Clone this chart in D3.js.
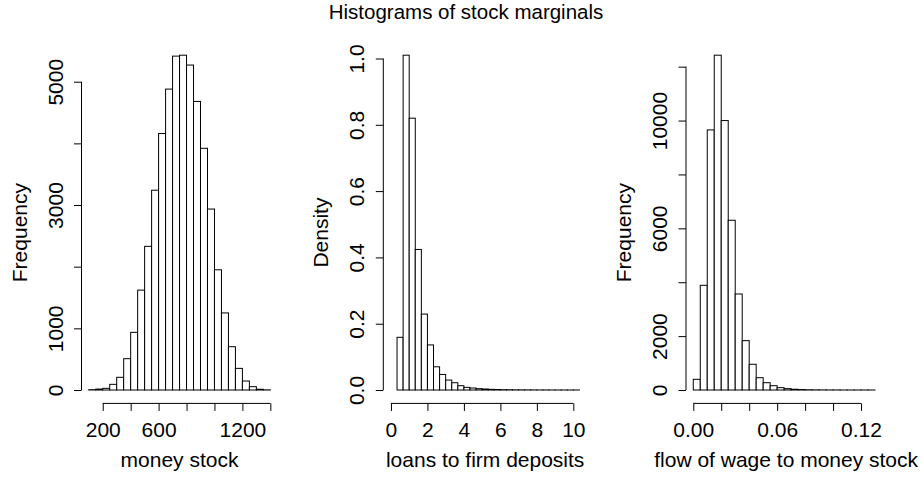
<!DOCTYPE html>
<html>
<head>
<meta charset="utf-8">
<script src="https://cdn.jsdelivr.net/npm/d3@7"></script>
<style>
  body { margin: 0; background: #fff; }
  svg text { font-family: "Liberation Sans", Arial, Helvetica, sans-serif; fill: #000; }
  .axis path, .axis line { stroke: #000; stroke-width: 1; }
</style>
</head>
<body>
<svg id="chart" width="922" height="478"></svg>
<script>
// money stock: bin edges and counts
var moneyBreaks = [100,150,200,250,300,350,400,450,500,550,600,650,700,750,800,850,900,950,1000,1050,1100,1150,1200,1250,1300,1350,1400];
var moneyCounts = [5,15,27,92,206,508,935,1620,2330,3240,4160,4880,5415,5430,5270,4680,3920,2935,1950,1250,702,351,146,54,12,3];
var moneyXTicks = [200,400,600,800,1000,1200,1400];
var moneyXLabels = ["200","","600","","","1200",""];
var moneyYTicks = [0,1000,2000,3000,4000,5000];
var moneyYLabels = ["0","1000","","3000","","5000"];

// loans to firm deposits: bin edges and densities
var loanBreaks = [0.333,0.667,1,1.333,1.667,2,2.333,2.667,3,3.333,3.667,4,4.333,4.667,5,5.333,5.667,6,6.333,6.667,7,7.333,7.667,8,8.333,8.667,9,9.333,9.667,10,10.333];
var loanDensity = [0.159,1.010,0.820,0.424,0.229,0.136,0.070,0.047,0.030,0.022,0.013,0.008,0.006,0.004,0.003,0.002,0.0015,0.001,0.0008,0.0006,0.0005,0.0004,0.0003,0.0002,0.0002,0.0001,0.0001,0.0001,0.0001,0.0001];
var loanXTicks = [0,2,4,6,8,10];
var loanXLabels = ["0","2","4","6","8","10"];
var loanYTicks = [0,0.2,0.4,0.6,0.8,1.0];
var loanYLabels = ["0.0","0.2","0.4","0.6","0.8","1.0"];

// flow of wage to money stock: bin edges and counts
var wageBreaks = [0,0.005,0.01,0.015,0.02,0.025,0.03,0.035,0.04,0.045,0.05,0.055,0.06,0.065,0.07,0.075,0.08,0.085,0.09,0.095,0.1,0.105,0.11,0.115,0.12,0.125,0.13];
var wageCounts = [397,3886,9653,12426,10000,6300,3564,1832,955,457,271,160,87,50,28,17,10,6,4,3,2,1,1,1,1,1];
var wageXTicks = [0,0.02,0.04,0.06,0.08,0.1,0.12];
var wageXLabels = ["0.00","","","0.06","","","0.12"];
var wageYTicks = [0,2000,4000,6000,8000,10000,12000];
var wageYLabels = ["0","2000","","6000","","10000",""];

var svg = d3.select("#chart");
var fontSize = 21,
    tick = 7.5,
    plotTop = 41.8,
    plotBottom = 403.4;

svg.append("text")
    .attr("x", 466)
    .attr("y", 19)
    .attr("text-anchor", "middle")
    .style("font-size", "20.5px")
    .text("Histograms of stock marginals");

var panels = [
  {breaks: moneyBreaks, values: moneyCounts, xlim: [48, 1452], left: 81.5, right: 277.6,
   xTicks: moneyXTicks, xLabels: moneyXLabels, yTicks: moneyYTicks, yLabels: moneyYLabels,
   xLab: "money stock", yLab: "Frequency"},
  {breaks: loanBreaks, values: loanDensity, xlim: [-0.42, 10.75], left: 383.3, right: 587,
   xTicks: loanXTicks, xLabels: loanXLabels, yTicks: loanYTicks, yLabels: loanYLabels,
   xLab: "loans to firm deposits", yLab: "Density"},
  {breaks: wageBreaks, values: wageCounts, xlim: [-0.0052, 0.1352], left: 686, right: 882.3,
   xTicks: wageXTicks, xLabels: wageXLabels, yTicks: wageYTicks, yLabels: wageYLabels,
   xLab: "flow of wage to money stock", yLab: "Frequency"}
];

panels.forEach(function(p) {
  var g = svg.append("g");
  var ymax = d3.max(p.values);

  var x = d3.scaleLinear().domain(p.xlim).range([p.left, p.right]);
  var y = d3.scaleLinear().domain([-0.04 * ymax, 1.04 * ymax]).range([plotBottom, plotTop]);

  // bars
  g.selectAll("rect")
    .data(p.values)
    .enter().append("rect")
      .attr("x", function(d, i) { return x(p.breaks[i]); })
      .attr("width", function(d, i) { return x(p.breaks[i + 1]) - x(p.breaks[i]); })
      .attr("y", function(d) { return y(d); })
      .attr("height", function(d) { return y(0) - y(d); })
      .attr("fill", "#fff")
      .attr("stroke", "#000")
      .attr("stroke-width", 1);

  // x axis, line only between first and last tick
  var gx = g.append("g")
      .attr("class", "axis")
      .attr("transform", "translate(0," + plotBottom + ")")
      .call(d3.axisBottom(x)
              .tickValues(p.xTicks)
              .tickSize(tick)
              .tickFormat(function(d, i) { return p.xLabels[i]; }));
  gx.select(".domain").remove();
  gx.append("line")
      .attr("x1", x(p.xTicks[0]))
      .attr("x2", x(p.xTicks[p.xTicks.length - 1]))
      .attr("stroke", "#000");
  gx.selectAll("text")
      .style("font-size", fontSize + "px")
      .attr("dy", 0)
      .attr("y", 33.5);

  // y axis with rotated labels
  var gy = g.append("g")
      .attr("class", "axis")
      .attr("transform", "translate(" + p.left + ",0)")
      .call(d3.axisLeft(y)
              .tickValues(p.yTicks)
              .tickSize(tick)
              .tickFormat(function(d, i) { return p.yLabels[i]; }));
  gy.select(".domain").remove();
  gy.append("line")
      .attr("y1", y(p.yTicks[0]))
      .attr("y2", y(p.yTicks[p.yTicks.length - 1]))
      .attr("stroke", "#000");
  gy.selectAll("text")
      .style("font-size", fontSize + "px")
      .attr("transform", "rotate(-90)")
      .attr("x", 0)
      .attr("y", -19)
      .attr("dy", 0)
      .attr("text-anchor", "middle");

  // axis titles
  g.append("text")
      .attr("x", (p.left + p.right) / 2 + (p.left > 600 ? 2 : 0))
      .attr("y", 466.5)
      .attr("text-anchor", "middle")
      .style("font-size", fontSize + "px")
      .text(p.xLab);

  g.append("text")
      .attr("transform", "translate(" + (p.left - 55) + "," + ((plotTop + plotBottom) / 2 + 10) + ")rotate(-90)")
      .attr("text-anchor", "middle")
      .style("font-size", fontSize + "px")
      .text(p.yLab);
});
</script>
</body>
</html>
